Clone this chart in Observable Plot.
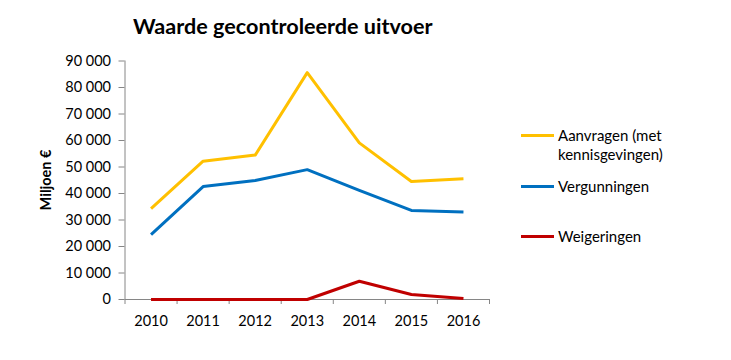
<!DOCTYPE html>
<html><head><meta charset="utf-8">
<script src="https://cdn.jsdelivr.net/npm/d3@7"></script>
<script src="https://cdn.jsdelivr.net/npm/@observablehq/plot@0.6"></script>
<style>
body{margin:0;background:#fff;font-family:Lato,"Open Sans",sans-serif;}
#wrap{position:relative;width:731px;height:360px;}
#title{position:absolute;left:133px;top:13px;font-size:21.6px;font-weight:bold;color:#000;white-space:nowrap;}
.leg{position:absolute;left:521px;font-size:15px;color:#000;line-height:19px;}
.leg span.sw{position:absolute;left:0;width:33px;height:3px;}
.leg span.tx{position:absolute;left:37px;white-space:nowrap;}
</style></head>
<body><div id="wrap"><div id="title">Waarde gecontroleerde uitvoer</div></div>
<script>
const years = [2010, 2011, 2012, 2013, 2014, 2015, 2016];
const aanvragen = [34300, 52200, 54500, 85600, 59100, 44500, 45600];
const vergunningen = [24500, 42600, 44900, 49000, 41200, 33600, 33000];
const weigeringen = [0, 0, 0, 0, 6900, 1900, 400];
const seriesNames = ["Aanvragen (met kennisgevingen)", "Vergunningen", "Weigeringen"];
const seriesLegend = [["Aanvragen (met", "kennisgevingen)"], ["Vergunningen"], ["Weigeringen"]];
const seriesColors = ["#FFC000", "#0070C0", "#C00000"];
const yTicks = [0, 10000, 20000, 30000, 40000, 50000, 60000, 70000, 80000, 90000];
const yLabel = "Miljoen €";

const seriesValues = [aanvragen, vergunningen, weigeringen];
const data = seriesNames.flatMap((s, i) => years.map((y, j) => ({series: s, year: y, value: seriesValues[i][j]})));
const boundaries = d3.range(years.length + 1).map(i => years[0] - 0.5 + i);
const fmt = d => d3.format(",")(d).replace(/,/g, " ");
const axisColor = "#868686";

const plot = Plot.plot({
  width: 731, height: 360,
  marginTop: 60.5, marginBottom: 61, marginLeft: 124.5, marginRight: 242,
  style: {fontFamily: "Lato, 'Open Sans', sans-serif", fontSize: "14.5px", color: "#000", background: "#fff"},
  x: {domain: [boundaries[0], boundaries[boundaries.length - 1]]},
  y: {domain: [0, 90000]},
  color: {domain: seriesNames, range: seriesColors},
  marks: [
    Plot.axisY({ticks: yTicks, tickFormat: fmt, tickSize: 6, tickPadding: 8, stroke: axisColor, label: null, fill: "#000"}),
    Plot.ruleX([boundaries[0]], {stroke: axisColor, strokeWidth: 1}),
    Plot.ruleY([0], {stroke: axisColor, strokeWidth: 1}),
    Plot.axisX({ticks: boundaries, tickFormat: () => "", tickSize: 5, stroke: axisColor, label: null}),
    Plot.axisX({ticks: years, tickFormat: d => String(d), tickSize: 0, tickPadding: 16, label: null, fill: "#000"}),
    Plot.line(data, {x: "year", y: "value", z: "series", stroke: "series", strokeWidth: 3, strokeLinejoin: "round", strokeLinecap: "butt"})
  ]
});
document.getElementById("wrap").prepend(plot);

// Y label
const svg = d3.select(plot);
svg.append("text").attr("transform", "translate(51,180) rotate(-90)").attr("text-anchor", "middle")
  .attr("font-weight", "bold").attr("font-size", "14.5px").attr("fill", "#000").text(yLabel);

// legend
const legY = [135.7, 186.7, 236.7];
const wrap = document.getElementById("wrap");
seriesNames.forEach((s, i) => {
  const d = document.createElement("div");
  d.className = "leg";
  d.style.top = (legY[i] - 1.5) + "px";
  const sw = document.createElement("span");
  sw.className = "sw"; sw.style.background = seriesColors[i]; sw.style.top = "0px";
  d.appendChild(sw);
  seriesLegend[i].forEach((t, k) => {
    const tx = document.createElement("span");
    tx.className = "tx"; tx.textContent = t; tx.style.top = (-8.5 + k * 19.3) + "px";
    d.appendChild(tx);
  });
  wrap.appendChild(d);
});
plot.style.position = "absolute"; plot.style.left = "0"; plot.style.top = "0";
document.getElementById("title").style.zIndex = 2;
</script></body></html>
